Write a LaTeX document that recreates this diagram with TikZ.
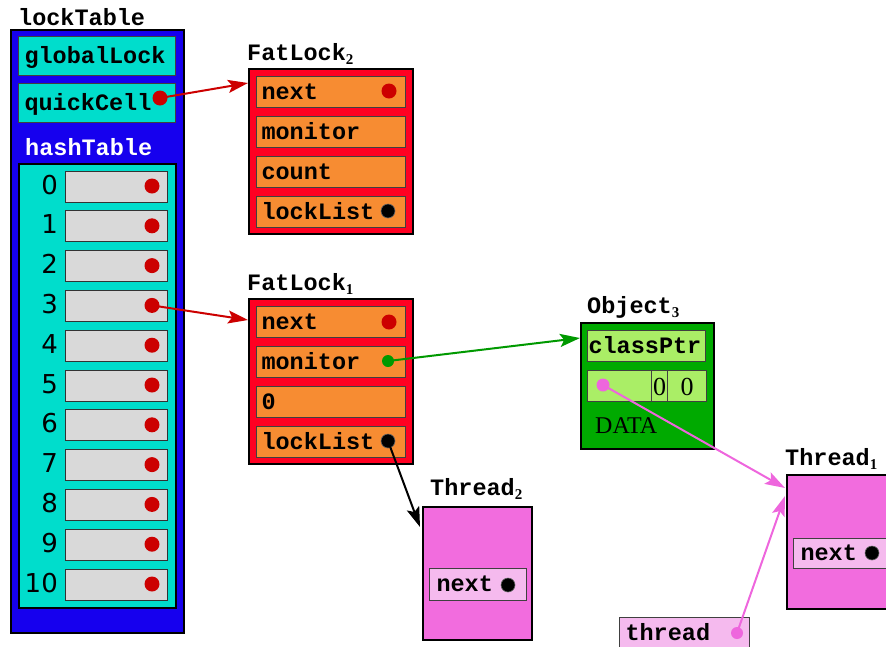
\documentclass[tikz,border=0pt]{standalone}
\usepackage{fontspec}
\usetikzlibrary{arrows.meta}
\newfontfamily\cmono{Liberation Mono}
\newfontfamily\cserif{Liberation Serif}
\newfontfamily\csans{DejaVu Sans}
\newcommand{\fieldfont}{\cmono\bfseries\fontsize{23.5}{24}\selectfont}
\newcommand{\subfont}{\cserif\fontsize{15}{16}\selectfont}
\definecolor{tblue}{RGB}{22,0,238}
\definecolor{tteal}{RGB}{0,221,204}
\definecolor{tgray}{RGB}{217,217,217}
\definecolor{tred}{RGB}{204,0,0}
\definecolor{fred}{RGB}{255,0,34}
\definecolor{forange}{RGB}{247,140,50}
\definecolor{ogreen}{RGB}{0,170,0}
\definecolor{lgreen}{RGB}{170,238,102}
\definecolor{agreen}{RGB}{0,153,0}
\definecolor{tpink}{RGB}{242,108,222}
\definecolor{lpink}{RGB}{245,186,238}
\definecolor{apink}{RGB}{238,102,221}
\tikzset{
  bigbox/.style={draw=black, line width=2pt, inner sep=0pt, anchor=north west},
  field/.style={draw=black!75, line width=1pt, anchor=north west, minimum height=31pt,
    inner xsep=5pt, inner ysep=0pt, text height=16pt, text depth=2pt, font=\fieldfont, align=left},
  title/.style={anchor=base west, inner sep=0pt, font=\fieldfont},
  slot/.style={draw=black!80, line width=1pt, fill=tgray, anchor=north west, minimum width=102pt, minimum height=31pt, inner sep=0pt},
  num/.style={anchor=base east, inner sep=0pt, font=\csans\fontsize{26}{26}\selectfont},
  rdot/.style={circle, fill=tred, inner sep=0pt, minimum size=15pt},
  bdot/.style={circle, fill=black, draw=black!60, line width=0.6pt, inner sep=0pt, minimum size=14pt},
  gdot/.style={circle, fill=agreen, inner sep=0pt, minimum size=12pt},
  pdot/.style={circle, fill=apink, inner sep=0pt, minimum size=13pt},
  conn/.style={line width=2pt, -{Stealth[length=20pt,width=13pt,inset=4pt]}},
}
\begin{document}
\begin{tikzpicture}[x=1pt,y=-1pt]
\clip (0,0) rectangle (886,646);
% ---------------- lockTable ----------------
\node[title] (ltt) at (18,25) {lockTable};
\node[bigbox, fill=tblue, minimum width=173pt, minimum height=603pt] (lt) at (10,29) {};
\node[field, fill=tteal, text width=145pt, inner xsep=6pt, minimum height=39pt] (gl) at (18,36) {globalLock};
\node[field, fill=tteal, text width=145pt, inner xsep=6pt, minimum height=39pt] (qc) at (18,83) {quickCell};
\node[rdot] (qcd) at (160,98) {};
\node[title, text=white] (htt) at (25,155) {hashTable};
\node[bigbox, fill=tteal, minimum width=157pt, minimum height=444pt] (ht) at (18,163) {};
\foreach \i in {0,...,10} {
  \pgfmathsetmacro{\yy}{170.5+39.8*\i}
  \node[slot] (s\i) at (65,\yy) {};
  \node[num] (n\i) at (58,\yy+23.5) {\i};
  \node[rdot] (sd\i) at (152,\yy+15.5) {};
}
% ---------------- FatLock2 ----------------
\node[title] (f2t) at (247,60) {FatLock{\subfont\raisebox{-4pt}{2}}};
\node[bigbox, fill=fred, minimum width=164pt, minimum height=165pt] (f2) at (248,68) {};
\node[field, fill=forange, text width=139pt] (f2a) at (256,76) {next};
\node[field, fill=forange, text width=139pt] (f2b) at (256,116) {monitor};
\node[field, fill=forange, text width=139pt] (f2c) at (256,156) {count};
\node[field, fill=forange, text width=139pt] (f2d) at (256,196) {lockList};
\node[rdot] (f2ad) at (389,91) {};
\node[bdot] (f2dd) at (388,211) {};
% ---------------- FatLock1 ----------------
\node[title] (f1t) at (247,290) {FatLock{\subfont\raisebox{-4pt}{1}}};
\node[bigbox, fill=fred, minimum width=164pt, minimum height=165pt] (f1) at (248,298) {};
\node[field, fill=forange, text width=139pt] (f1a) at (256,306) {next};
\node[field, fill=forange, text width=139pt] (f1b) at (256,346) {monitor};
\node[field, fill=forange, text width=139pt] (f1c) at (256,386) {0};
\node[field, fill=forange, text width=139pt] (f1d) at (256,426) {lockList};
\node[rdot] (f1ad) at (389,322) {};
\node[gdot] (f1bd) at (388,361) {};
\node[bdot] (f1dd) at (388,441) {};
% ---------------- Object3 ----------------
\node[title] (obt) at (587,313) {Object{\subfont\raisebox{-4pt}{3}}};
\node[bigbox, fill=ogreen, minimum width=133pt, minimum height=126pt] (ob) at (580,322) {};
\node[field, fill=lgreen, text width=116pt, inner xsep=1pt] (cp) at (587,330) {classPtr};
\node[field, fill=lgreen, minimum width=64pt] (oa) at (587,370) {};
\node[field, fill=lgreen, minimum width=16pt, inner xsep=0pt, text height=19pt, text depth=0pt, font=\cserif\fontsize{26}{26}\selectfont] (ob1) at (651,370) {0};
\node[field, fill=lgreen, minimum width=39pt, inner xsep=0pt, text height=19pt, text depth=0pt, font=\cserif\fontsize{26}{26}\selectfont] (ob2) at (667,370) {0};
\node[anchor=base west, inner sep=0pt, font=\cserif\fontsize{24}{24}\selectfont] (data) at (595,433) {DATA};
\node[pdot] (oad) at (603,385) {};
% ---------------- Thread2 ----------------
\node[title] (t2t) at (430,495) {Thread{\subfont\raisebox{-4pt}{2}}};
\node[bigbox, fill=tpink, minimum width=109pt, minimum height=133pt] (t2) at (422,506) {};
\node[field, fill=lpink, text width=83pt, inner xsep=7pt, minimum height=32pt] (t2n) at (429,568) {next};
\node[bdot] (t2nd) at (508,585) {};
% ---------------- Thread1 ----------------
\node[title] (t1t) at (785,465) {Thread{\subfont\raisebox{-4pt}{1}}};
\node[bigbox, fill=tpink, minimum width=110pt, minimum height=134pt] (t1) at (786,474) {};
\node[field, fill=lpink, text width=86pt, inner xsep=7pt, minimum height=30pt] (t1n) at (793,538) {next};
\node[bdot] (t1nd) at (872,553) {};
% ---------------- thread ----------------
\node[field, fill=lpink, text width=118pt, inner xsep=6pt] (th) at (619,617) {thread};
\node[pdot, minimum size=12pt] (thd) at (737,633) {};
% ---------------- connectors ----------------
\draw[conn, draw=tred, fill=tred] (qcd.center) -- ([yshift=-15pt]f2.north west);
\draw[conn, draw=tred, fill=tred] (sd3.center) -- ([yshift=-22pt]f1.north west);
\draw[conn, draw=agreen, fill=agreen] (f1bd.center) -- ([yshift=-16pt]ob.north west);
\draw[conn, draw=black, fill=black] (f1dd.center) -- ([xshift=-2pt,yshift=-21pt]t2.north west);
\draw[conn, draw=apink, fill=apink] (oad.center) -- ([xshift=-1pt,yshift=-14pt]t1.north west);
\draw[conn, draw=apink, fill=apink] (thd.center) -- ([xshift=-1pt,yshift=-22pt]t1.north west);
\end{tikzpicture}
\end{document}
